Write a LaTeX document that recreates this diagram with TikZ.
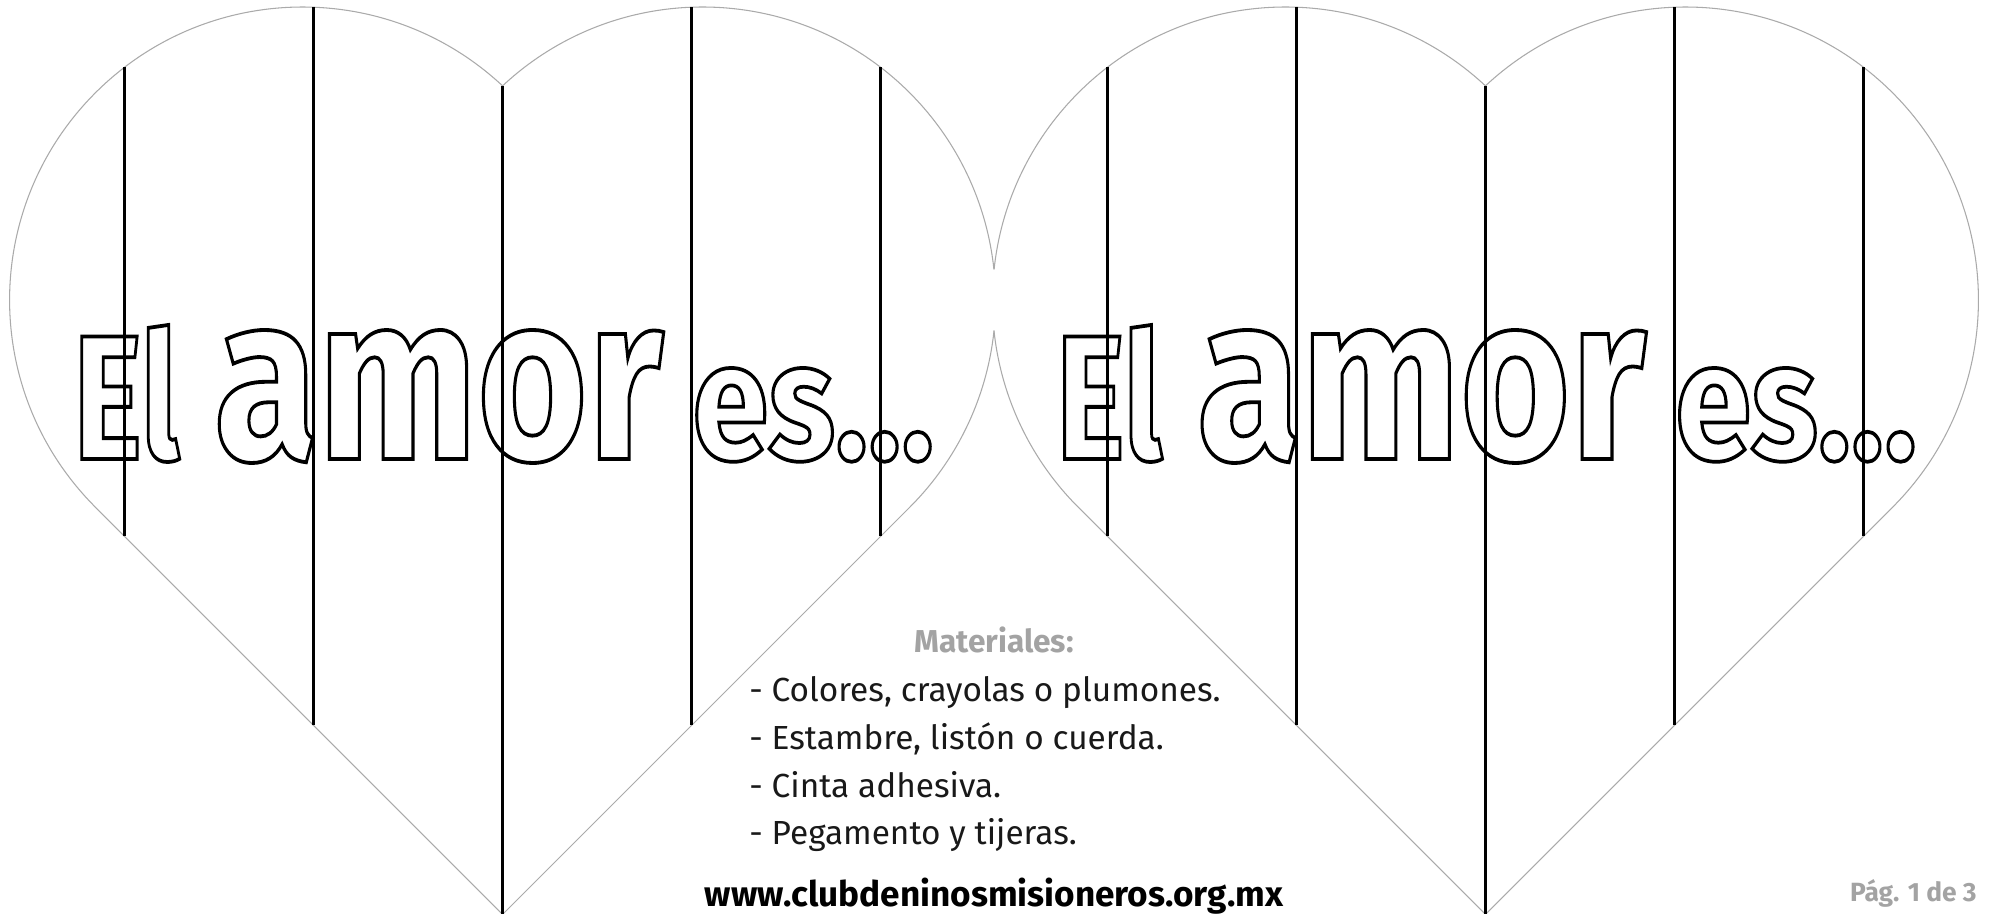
\documentclass[tikz,border=0pt]{standalone}
\usepackage{fontspec}
\usepackage{graphicx}
\setmainfont{Fira Sans}
\definecolor{heartgray}{HTML}{AAAAAA}
\definecolor{notegray}{HTML}{A3A3A3}
\newcommand{\hollowword}[4]{\resizebox{#1}{#2}{\fontsize{#3}{#3}\selectfont\bfseries
  \special{pdf:literal direct 1 Tr 2.2 w}#4\special{pdf:literal direct 0 Tr}}}

\begin{document}
\begin{tikzpicture}[x=0.2mm,y=0.2mm,
  heartline/.style={draw=heartgray,line width=0.6pt},
  foldline/.style={draw=black,line width=1.5pt},
  word/.style={anchor=base west,inner sep=0pt},
  listitem/.style={anchor=base west,inner sep=0pt,font=\fontsize{19}{21}\selectfont,text=black!90},
  heading/.style={anchor=base,inner sep=0pt,font=\fontsize{18}{20}\selectfont\bfseries,text=notegray},
  website/.style={anchor=base,inner sep=0pt,font=\fontsize{20}{22}\selectfont\bfseries},
  pagenum/.style={anchor=base east,inner sep=0pt,font=\fontsize{15}{17}\selectfont\bfseries,text=notegray}]
  \useasboundingbox (0,0) rectangle (1990,914);
  \fill[white] (0,0) rectangle (1990,914);

  \draw[heartline] (502.6,-0.4) -- (95.4,406.8) arc[start angle=225,end angle=46.96,radius=293]
    arc[start angle=133.04,end angle=6,radius=293];
  \draw[heartline] (502.6,-0.4) -- (909.8,406.8) arc[start angle=-45,end angle=-6,radius=293];
  \draw[heartline] (1485.4,-0.4) -- (1892.6,406.8) arc[start angle=-45,end angle=133.04,radius=293]
    arc[start angle=46.96,end angle=174,radius=293];
  \draw[heartline] (1485.4,-0.4) -- (1078.2,406.8) arc[start angle=225,end angle=186,radius=293];

  \draw[foldline]
    (124.6,377.6) -- (124.6,846.7)
    (313.6,188.6) -- (313.6,906.8)
    (502.6,-0.4) -- (502.6,828.1)
    (691.6,188.6) -- (691.6,906.8)
    (880.6,377.6) -- (880.6,846.7)
    (1107.4,377.6) -- (1107.4,846.7)
    (1296.4,188.6) -- (1296.4,906.8)
    (1485.4,-0.4) -- (1485.4,828.1)
    (1674.4,188.6) -- (1674.4,906.8)
    (1863.4,377.6) -- (1863.4,846.7);

  \node[word] (el1) at (73,455) {\hollowword{60.3pt}{76.3pt}{103}{El}};
  \node[word] (amor1) at (214,455) {\hollowword{255.5pt}{73.4pt}{136}{amor}};
  \node[word] (es1) at (692,455) {\hollowword{137.7pt}{51.8pt}{98}{es...}};
  \node[word] (el2) at (1055.8,455) {\hollowword{60.3pt}{76.3pt}{103}{El}};
  \node[word] (amor2) at (1196.8,455) {\hollowword{255.5pt}{73.4pt}{136}{amor}};
  \node[word] (es2) at (1674.8,455) {\hollowword{137.7pt}{51.8pt}{98}{es...}};

  \node[heading] (mat) at (994,261) {Materiales:};
  \node[listitem] (item1) at (749,212) {- Colores, crayolas o plumones.};
  \node[listitem] (item2) at (749,164) {- Estambre, listón o cuerda.};
  \node[listitem] (item3) at (749,116) {- Cinta adhesiva.};
  \node[listitem] (item4) at (749,69) {- Pegamento y tijeras.};
  \node[website] (site) at (994,7) {www.clubdeninosmisioneros.org.mx};
  \node[pagenum] (pag) at (1977,12) {Pág. 1 de 3};
\end{tikzpicture}
\end{document}
